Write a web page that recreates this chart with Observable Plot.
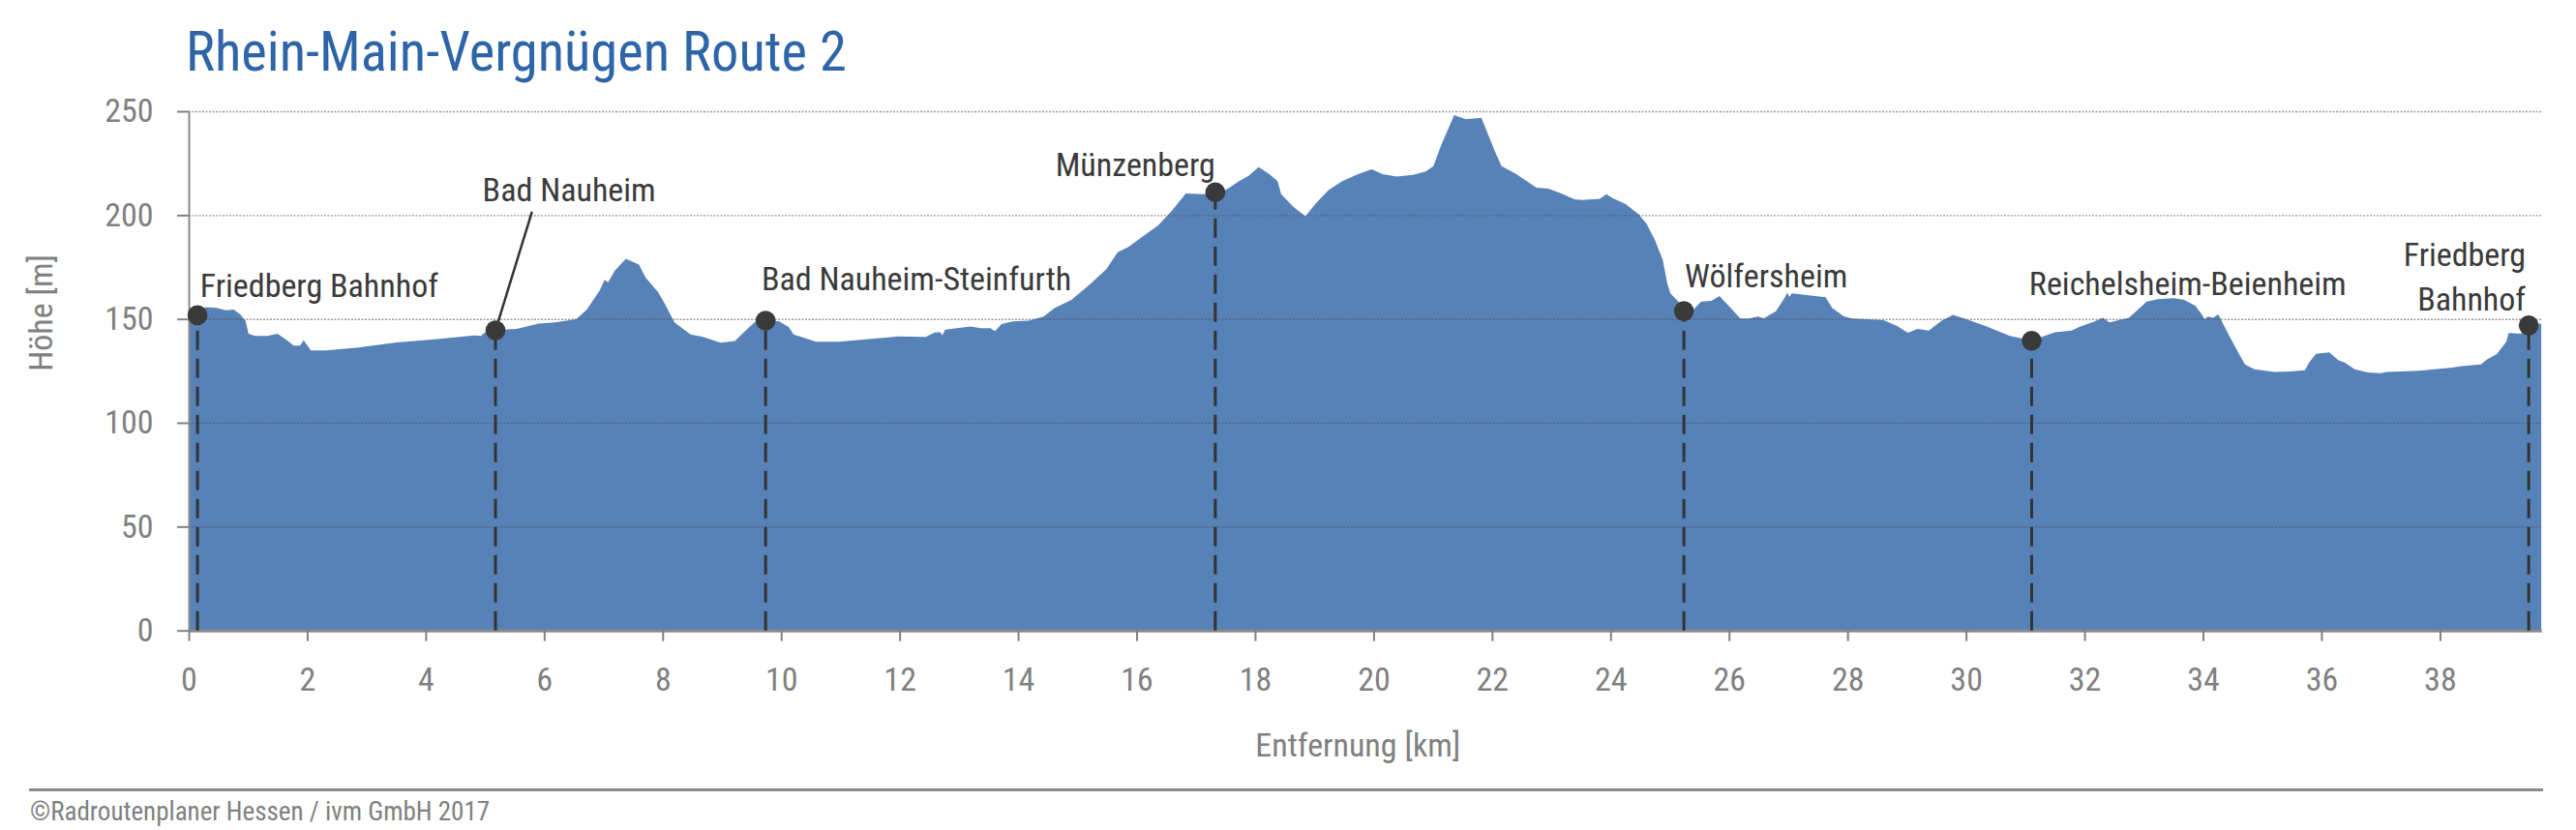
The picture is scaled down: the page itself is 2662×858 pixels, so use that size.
<!DOCTYPE html>
<html>
<head>
<meta charset="utf-8">
<script src="https://cdn.jsdelivr.net/npm/d3@7"></script>
<script src="https://cdn.jsdelivr.net/npm/@observablehq/plot@0.6"></script>
<style>
  html, body { margin: 0; padding: 0; background: #fff; }
  body { position: relative; width: 2662px; height: 858px; overflow: hidden;
         font-family: "Roboto Condensed", "Roboto", "Liberation Sans Narrow", sans-serif; font-stretch: condensed; }
  #title { position: absolute; left: 192px; top: 26px; font-size: 56.5px; line-height: 57px;
           color: #2d65a8; white-space: nowrap; }
  #chart { position: absolute; left: 0; top: 95px; }
  #rule { position: absolute; left: 30px; top: 815px; width: 2598px; height: 3px; background: #8a8a8a; }
  #caption { position: absolute; left: 31px; top: 826px; font-size: 27px; line-height: 27px; color: #808080; white-space: nowrap; }
</style>
</head>
<body>
<div id="title"></div>
<div id="chart"></div>
<div id="rule"></div>
<div id="caption"></div>
<script>
// ---------- data ----------
const titleText = "Rhein-Main-Vergnügen Route 2";
const captionText = "©Radroutenplaner Hessen / ivm GmbH 2017";
const xAxisTitle = "Entfernung [km]";
const yAxisTitle = "Höhe [m]";

const profileKm = [
  0.00, 0.30, 0.46, 0.63, 0.76, 0.87, 0.96, 1.01, 1.12, 1.33, 1.50, 1.66, 1.77, 1.88, 1.94, 2.02, 2.06, 2.31,
  2.86, 3.51, 4.16, 4.82, 4.93, 5.04, 5.30, 5.53, 5.91, 6.18, 6.54, 6.72, 6.94, 7.02, 7.08, 7.19, 7.38, 7.60,
  7.71, 7.92, 8.03, 8.20, 8.47, 8.68, 8.98, 9.22, 9.40, 9.56, 9.73, 9.97, 10.13, 10.21, 10.59, 10.98, 11.90,
  11.95, 12.44, 12.60, 12.69, 12.72, 12.77, 13.20, 13.37, 13.53, 13.61, 13.72, 13.91, 14.18, 14.43, 14.62,
  14.90, 15.22, 15.49, 15.68, 15.87, 16.09, 16.36, 16.59, 16.83, 17.12, 17.32, 17.50, 17.73, 17.89, 18.06,
  18.24, 18.38, 18.44, 18.65, 18.85, 19.03, 19.24, 19.47, 19.74, 19.97, 20.15, 20.39, 20.67, 20.88, 21.01,
  21.13, 21.36, 21.56, 21.82, 22.05, 22.16, 22.41, 22.75, 22.95, 23.17, 23.39, 23.52, 23.82, 23.93, 24.04,
  24.25, 24.48, 24.61, 24.75, 24.88, 24.96, 25.01, 25.16, 25.23, 25.40, 25.53, 25.70, 25.84, 26.00, 26.19,
  26.33, 26.49, 26.59, 26.79, 26.95, 26.98, 27.02, 27.06, 27.63, 27.74, 27.93, 28.07, 28.61, 28.83, 29.02,
  29.18, 29.37, 29.59, 29.78, 29.97, 30.35, 30.74, 31.10, 31.28, 31.50, 31.78, 31.93, 32.15, 32.31, 32.42,
  32.75, 33.05, 33.24, 33.51, 33.68, 33.87, 33.98, 34.03, 34.08, 34.17, 34.26, 34.44, 34.60, 34.71, 34.87,
  35.20, 35.47, 35.72, 35.80, 35.91, 36.13, 36.29, 36.40, 36.56, 36.78, 37.00, 37.11, 37.65, 38.20, 38.41,
  38.69, 38.79, 38.96, 39.12, 39.16, 39.37, 39.49, 39.56, 39.71
];
const profileElev = [
  153.0, 155.7, 155.3, 154.2, 154.5, 152.2, 149.0, 142.9, 141.8, 141.8, 142.9, 139.7, 137.1, 137.1, 139.7, 136.6, 134.8, 134.8,
  136.2, 138.7, 140.2, 142.1, 141.8, 144.4, 144.9, 145.2, 147.8, 148.3, 149.8, 154.5, 163.8, 168.8, 167.7, 173.1, 179.0, 176.2,
  170.0, 163.0, 157.6, 148.3, 142.5, 141.3, 138.5, 139.4, 144.4, 148.6, 149.5, 148.8, 146.0, 142.5, 139.0, 139.0, 141.3,
  141.6, 141.3, 143.6, 143.6, 142.1, 144.9, 146.4, 145.6, 145.5, 144.1, 147.5, 148.8, 149.1, 151.1, 155.3,
  159.2, 166.9, 173.9, 182.1, 184.8, 189.4, 194.9, 201.9, 210.4, 210.1, 211.0, 212.0, 216.3, 218.9, 223.1,
  219.7, 216.3, 210.1, 203.9, 199.5, 205.7, 212.0, 216.3, 219.7, 222.0, 219.7, 218.6, 219.4, 221.0, 223.6,
  232.9, 248.1, 246.1, 246.9, 230.6, 223.6, 219.7, 213.2, 212.7, 210.4, 207.6, 207.3, 207.9, 210.1, 208.1,
  205.4, 200.3, 195.7, 187.9, 178.6, 166.9, 162.3, 157.9, 155.0, 154.5, 158.4, 158.7, 161.0, 156.1, 150.2,
  150.2, 151.1, 150.3, 153.7, 160.7, 162.7, 160.7, 162.3, 160.4, 155.3, 151.4, 150.2, 149.4, 146.7, 143.3,
  145.2, 144.4, 149.1, 152.0, 150.2, 146.3, 141.8, 139.7, 141.3, 143.6, 144.4, 146.4, 148.6, 150.6, 148.3,
  150.6, 158.4, 159.5, 160.0, 159.2, 156.4, 152.2, 149.8, 151.1, 150.6, 152.2, 142.1, 133.5, 128.1, 125.8,
  124.5, 124.7, 125.3, 129.3, 133.2, 133.9, 130.0, 128.9, 125.8, 124.2, 123.9, 124.5, 125.0, 126.6, 127.4,
  128.1, 130.4, 133.1, 139.0, 143.2, 142.9, 147.1, 147.5, 147.8
];

const stopNames = ["Friedberg Bahnhof", "Bad Nauheim", "Bad Nauheim-Steinfurth", "Münzenberg",
                   "Wölfersheim", "Reichelsheim-Beienheim", "Friedberg Bahnhof"];
const stopKm   = [0.14, 5.17, 9.73, 17.32, 25.23, 31.10, 39.49];
const stopElev = [152.0, 144.7, 149.4, 211.2, 154.0, 139.7, 147.1];

const xTickValues = [0, 2, 4, 6, 8, 10, 12, 14, 16, 18, 20, 22, 24, 26, 28, 30, 32, 34, 36, 38];
const yTickValues = [0, 50, 100, 150, 200, 250];
const xDomain = [0, 39.72];
const yDomain = [0, 250];

// ---------- tables ----------
const profile = profileKm.map((km, i) => ({km, elev: profileElev[i]}));
const stops = stopNames.map((name, i) => ({name, km: stopKm[i], elev: stopElev[i]}));

// label placement (style/layout only)
const labelLayout = [
  {anchor: "start", dx: 2.7,  dy: -18.7},
  {anchor: "start", dx: -13.4, dy: -133.8},
  {anchor: "start", dx: -4.3, dy: -31},
  {anchor: "end",   dx: 0,    dy: -16.6},
  {anchor: "start", dx: 1,    dy: -24.3},
  {anchor: "start", dx: -2.6, dy: -47.7},
  {anchor: "end",   dx: -3,   dy: -15.3, multiline: true}
];

const FONT = '"Roboto Condensed", "Roboto", "Liberation Sans Narrow", sans-serif';
const GRAY = "#808080";
const LABEL = "#3a3a3a";

const labelMarks = stops.map((s, i) => {
  const L = labelLayout[i];
  return Plot.text([s], {
    x: "km", y: "elev",
    text: d => L.multiline ? d.name.replace(" ", "\n") : d.name,
    textAnchor: L.anchor, lineAnchor: "bottom", lineHeight: 1.345,
    dx: L.dx, dy: L.dy, fill: LABEL, fontSize: 34
  });
});

const leaderShape = {
  draw(context, l) { context.moveTo(0, 0); context.lineTo(0, -l); }
};

const chart = Plot.plot({
  width: 2662,
  height: 700,
  marginLeft: 195,
  marginRight: 35.3,
  marginTop: 20,
  marginBottom: 143.3,
  style: {fontFamily: FONT, fontSize: "34px", background: "transparent", overflow: "visible"},
  x: {domain: xDomain},
  y: {domain: yDomain},
  marks: [
    Plot.areaY(profile, {x: "km", y: "elev", fill: "#5782b8"}),
    Plot.gridY({ticks: yTickValues.filter(v => v > 0), stroke: "#555", strokeOpacity: 0.6,
                strokeDasharray: "2,1.5", strokeWidth: 1.4}),
    Plot.ruleX([0], {stroke: "#8a8a8a", strokeWidth: 2}),
    Plot.ruleY([0], {stroke: "#8a8a8a", strokeWidth: 3}),
    Plot.ruleX(stops, {x: "km", y1: 0, y2: "elev", stroke: "#333", strokeWidth: 3, strokeDasharray: "20,9"}),
    Plot.vector([stops[1]], {x: "km", y: "elev", length: 127.4, rotate: 17.1, anchor: "start",
                 shape: leaderShape, stroke: "#333", strokeWidth: 2.5}),
    Plot.dot(stops, {x: "km", y: "elev", r: 10.3, fill: LABEL}),
    ...labelMarks,
    Plot.axisX({ticks: xTickValues, tickSize: 11, tickPadding: 27, fontSize: 34, color: GRAY,
                strokeWidth: 2, label: null, tickFormat: d => String(d)}),
    Plot.axisY({ticks: yTickValues, tickSize: 12, tickPadding: 25, fontSize: 34, color: GRAY,
                strokeWidth: 2, label: null, tickFormat: d => String(d)}),
    Plot.text([xAxisTitle], {frameAnchor: "bottom", dx: -8, dy: 119.3, lineAnchor: "middle", text: d => d,
                             fill: GRAY, fontSize: 34}),
    Plot.text([yAxisTitle], {frameAnchor: "left", dx: -152, rotate: -90, lineAnchor: "middle", text: d => d,
                             fill: GRAY, fontSize: 34})
  ]
});

document.getElementById("chart").appendChild(chart);
document.getElementById("title").textContent = titleText;
document.getElementById("caption").textContent = captionText;
</script>
</body>
</html>
